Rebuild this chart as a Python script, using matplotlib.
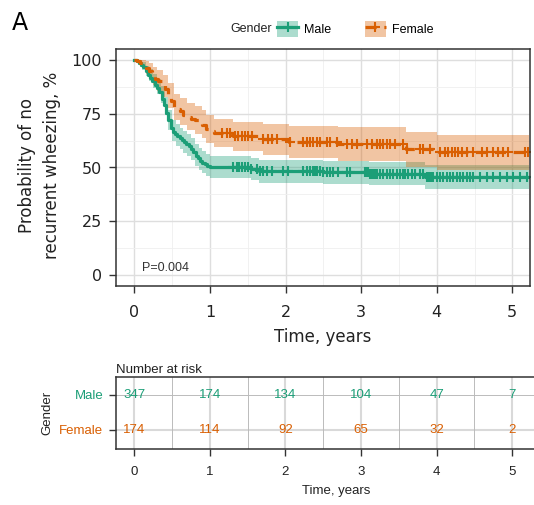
import matplotlib.pyplot as plt
import numpy as np
from matplotlib.lines import Line2D
from matplotlib.patches import Patch

GREEN = "#1B9E77"
ORANGE = "#D95F02"
TABLE_FONT = "Liberation Sans"

# Kaplan-Meier curves (years, % without recurrent wheezing)
male_time = [0, 0.03, 0.06, 0.09, 0.12, 0.15, 0.18, 0.21, 0.24, 0.27, 0.3, 0.33, 0.36,
             0.39, 0.42, 0.45, 0.48, 0.51, 0.54, 0.57, 0.6, 0.63, 0.66, 0.69, 0.72, 0.75,
             0.78, 0.81, 0.84, 0.87, 0.9, 0.93, 0.96, 1.0, 1.55, 1.65, 2.5, 3.1, 3.85, 5.22]
male_surv = [100, 99.5, 98.5, 97.5, 96.5, 95, 93, 91.5, 90, 88.5, 87, 85, 82,
             79, 75.5, 72, 68.5, 66.5, 65.5, 64.5, 63.5, 62.8, 62, 61, 60, 58.5,
             57, 55.5, 54.3, 53.2, 52.3, 51.4, 50.8, 50.2, 49.2, 48.2, 47.8, 47.2, 45.6, 45.6]

female_time = [0, 0.04, 0.08, 0.12, 0.16, 0.2, 0.24, 0.28, 0.32, 0.36, 0.4, 0.44, 0.48,
               0.52, 0.56, 0.6, 0.65, 0.7, 0.75, 0.8, 0.85, 0.9, 0.95, 1.0, 1.05, 1.3,
               1.7, 2.05, 2.7, 3.6, 4.0, 5.22]
female_surv = [100, 99.3, 98.5, 97.5, 96, 95, 93, 91.3, 90, 88.5, 86.5, 84, 81,
               78, 77, 76, 74.5, 73.5, 72.7, 72, 71, 69.8, 67.8, 66.8, 66, 64.4,
               63, 62, 61, 58.5, 57, 57]

# confidence bands (own time grid)
male_ci_time = [0, 0.05, 0.1, 0.15, 0.2, 0.25, 0.3, 0.35, 0.4, 0.45, 0.5, 0.55, 0.6,
                0.65, 0.7, 0.75, 0.8, 0.85, 0.9, 0.95, 1.0, 1.55, 1.65, 2.5, 3.1, 3.85, 5.22]
male_lo = [100, 97.6, 95.2, 92.7, 90, 86.8, 84, 80.1, 74.2, 67.3, 62.1, 60, 58.5,
           56.9, 55.4, 53.4, 50.9, 48.9, 47.4, 45.9, 45.1, 44.0, 42.9, 42.4, 41.7, 40.2, 40.2]
male_hi = [100, 100, 98.8, 97.3, 95.6, 93.2, 91, 87.9, 82.8, 76.7, 71.9, 70, 68.5,
           67.1, 65.6, 63.6, 61.1, 59.1, 57.6, 56.1, 55.3, 54.4, 53.5, 53.2, 52.7, 51.2, 51.2]

female_ci_time = [0, 0.08, 0.15, 0.2, 0.25, 0.3, 0.38, 0.45, 0.52, 0.6, 0.7, 0.8, 0.9,
                  0.95, 1.05, 1.3, 1.7, 2.05, 2.7, 3.6, 4.0, 5.22]
female_lo = [100, 96.5, 93.5, 91.3, 88.2, 85.7, 82.5, 77.7, 71.9, 69.8, 67.2, 65.6, 63.5,
             61.2, 59.3, 57.5, 55.9, 54.5, 53.2, 50.3, 48.7, 48.7]
female_hi = [100, 100, 99.5, 98.7, 96.8, 95.3, 93.1, 89.3, 84.1, 82.2, 79.8, 78.4, 76.5,
             74.4, 72.7, 71.3, 70, 69.3, 68.8, 66.7, 65.3, 65.3]

# censoring times (years)
male_censor = [1.31, 1.36, 1.39, 1.42, 1.43, 1.46, 1.50, 1.55, 1.62, 1.66, 1.70, 1.76,
               1.82, 1.97, 2.03, 2.23, 2.28, 2.32, 2.36, 2.39, 2.42, 2.46, 2.50, 2.55,
               2.59, 2.63, 2.69, 2.81, 2.85, 3.05, 3.08, 3.09, 3.12, 3.14, 3.16, 3.18,
               3.21, 3.25, 3.29, 3.34, 3.38, 3.42, 3.47, 3.51, 3.55, 3.58, 3.62, 3.67,
               3.71, 3.78, 3.82, 3.87, 3.88, 3.91, 3.94, 3.95, 4.00, 4.04, 4.08, 4.14,
               4.18, 4.22, 4.27, 4.31, 4.35, 4.40, 4.44, 4.48, 4.57, 4.67, 4.74, 4.84,
               4.93, 5.01, 5.10, 5.19]
female_censor = [1.16, 1.23, 1.27, 1.33, 1.37, 1.42, 1.46, 1.50, 1.56, 1.70, 1.77, 1.82,
                 1.89, 2.06, 2.23, 2.28, 2.32, 2.36, 2.42, 2.46, 2.55, 2.59, 2.68, 2.81,
                 2.88, 2.94, 3.08, 3.14, 3.21, 3.25, 3.29, 3.34, 3.38, 3.45, 3.55, 3.61,
                 3.78, 3.82, 3.91, 4.04, 4.11, 4.15, 4.20, 4.24, 4.28, 4.33, 4.40, 4.48,
                 4.60, 4.67, 4.74, 4.81, 4.88, 4.94, 5.17, 5.21]

risk_times = [0, 1, 2, 3, 4, 5]
male_risk = [347, 174, 134, 104, 47, 7]
female_risk = [174, 114, 92, 65, 32, 2]

DASH = (0, (3.5, 2.4))


def step_value(times, surv, t):
    idx = np.searchsorted(times, t, side="right") - 1
    return np.asarray(surv)[idx]


def draw_group(ax, times, surv, ci_time, lo, hi, censor, color, dashed):
    ax.fill_between(ci_time, lo, hi, step="post", color=color, alpha=0.36, lw=0)
    ax.step(times, surv, where="post", color=color, lw=2.3, ls=DASH if dashed else "-")
    cy = step_value(times, surv, censor)
    ax.plot(censor, cy, ls="none", marker="+", ms=7, mew=1.5, color=color)


fig = plt.figure(figsize=(5.34, 5.05), dpi=100)

# main survival panel
ax = fig.add_axes([116 / 534, 1 - 286 / 505, 414 / 534, 237 / 505])
draw_group(ax, male_time, male_surv, male_ci_time, male_lo, male_hi, male_censor,
           GREEN, False)
draw_group(ax, female_time, female_surv, female_ci_time, female_lo, female_hi,
           female_censor, ORANGE, True)

ax.set_xlim(-0.242, 5.234)
ax.set_ylim(-5, 105)
ax.set_xticks(range(6))
ax.set_xticks(np.arange(0.5, 5.5, 1), minor=True)
ax.set_yticks([0, 25, 50, 75, 100])
ax.set_yticks([12.5, 37.5, 62.5, 87.5], minor=True)
ax.grid(which="major", color="#DEDEDE", lw=1.0)
ax.grid(which="minor", color="#EFEFEF", lw=0.6)
ax.set_axisbelow(True)
ax.tick_params(which="minor", length=0)
ax.tick_params(which="major", length=5, width=1, color="#333333",
               labelsize=11.5, labelcolor="#222222")
ax.tick_params(axis="x", pad=9)
ax.tick_params(axis="y", pad=5)
for s in ax.spines.values():
    s.set_color("#333333")
    s.set_linewidth(1.1)
ax.set_xlabel("Time, years", fontsize=12, labelpad=5.5, color="#222222")
ax.text(0.1, 3.4, "P=0.004", fontsize=9, family=TABLE_FONT, ha="left", va="center",
        color="#333333")

fig.text(40 / 534, 1 - 165 / 505, "Probability of no\nrecurrent wheezing, %",
         rotation=90, ha="center", va="center", fontsize=12, linespacing=1.5,
         multialignment="center", color="#222222")
fig.text(12 / 534, 1 - 30 / 505, "A", fontsize=17, ha="left", va="baseline")

# legend
handles = [
    (Patch(fc=GREEN, alpha=0.36, ec="none"),
     Line2D([], [], color=GREEN, lw=2.3, marker="+", ms=7, mew=1.5)),
    (Patch(fc=ORANGE, alpha=0.36, ec="none"),
     Line2D([], [], color=ORANGE, lw=2.3, ls=DASH, marker="+", ms=7, mew=1.5)),
]
fig.text(230 / 534, 1 - 29 / 505, "Gender", fontsize=9, family=TABLE_FONT,
         ha="left", va="center", color="#222222")
fig.legend(handles, ["Male", "Female"], ncol=2, frameon=False, loc="center left",
           bbox_to_anchor=(277 / 534, 1 - 29 / 505), prop={"family": TABLE_FONT, "size": 9},
           handlelength=1.7, handleheight=1.65, handletextpad=0.45, columnspacing=2.7,
           borderpad=0, borderaxespad=0)

# number at risk table
tab = fig.add_axes([116 / 534, 1 - 449 / 505, 440 / 534, 72 / 505])
tab.set_xlim(-0.242, -0.242 + 440 / 75.6)
tab.set_ylim(0.457, 2.514)
tab.set_xticks(risk_times)
tab.set_xticks(np.arange(0.5, 5.5, 1), minor=True)
tab.grid(axis="x", which="major", color="#D9D9D9", lw=1.5)
tab.grid(axis="x", which="minor", color="#BBBBBB", lw=0.7)
tab.axhline(2, color="#BBBBBB", lw=0.7, zorder=0.5)
tab.axhline(1, color="#D9D9D9", lw=1.5, zorder=0.5)
tab.set_axisbelow(True)
for t, m, f in zip(risk_times, male_risk, female_risk):
    tab.text(t, 2, str(m), ha="center", va="center", color=GREEN, fontsize=9.5,
             family=TABLE_FONT)
    tab.text(t, 1, str(f), ha="center", va="center", color=ORANGE, fontsize=9.5,
             family=TABLE_FONT)
tab.set_yticks([2, 1])
tab.set_yticklabels(["Male", "Female"])
tab.tick_params(which="minor", length=0)
tab.tick_params(which="major", length=5, width=1, color="#333333", labelsize=9.5,
                labelcolor="#222222")
tab.tick_params(axis="x", pad=7.5)
tab.tick_params(axis="y", pad=4)
for lab in tab.get_xticklabels() + tab.get_yticklabels():
    lab.set_fontfamily(TABLE_FONT)
for lab, c in zip(tab.get_yticklabels(), [GREEN, ORANGE]):
    lab.set_color(c)
for s in tab.spines.values():
    s.set_color("#333333")
    s.set_linewidth(1.1)
tab.set_title("Number at risk", loc="left", fontsize=9.5, pad=3, family=TABLE_FONT,
              color="#222222")
tab.set_xlabel("Time, years", fontsize=9.5, labelpad=4.5, family=TABLE_FONT,
               color="#222222")
tab.set_ylabel("Gender", fontsize=9.5, labelpad=4, family=TABLE_FONT, color="#222222")

fig.savefig("out.png", dpi=100)
